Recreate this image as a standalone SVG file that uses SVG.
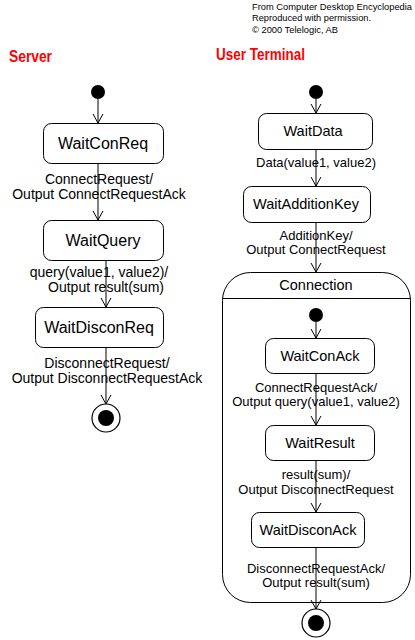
<svg xmlns="http://www.w3.org/2000/svg" width="415" height="640" viewBox="0 0 415 640">
<style>
.box{fill:#fff;stroke:#000;stroke-width:1}
.ln{stroke:#000;stroke-width:1;fill:none}
.dot{fill:#000}
.t{font-family:"Liberation Sans",Arial,sans-serif;fill:#000;text-anchor:middle}
.lb{font-size:14px}
.rl{font-size:13px}
.bl{font-size:16px}
.br{font-size:14.5px}
.title{font-family:"Liberation Sans",Arial,sans-serif;font-weight:bold;font-size:16.5px;fill:#ff0000}
.cr{font-family:"Liberation Sans",Arial,sans-serif;font-size:9.3px;fill:#000}
</style>
<defs>
<marker id="arr" markerUnits="userSpaceOnUse" markerWidth="12" markerHeight="12" viewBox="-10 -6 12 12" refX="0" refY="0" orient="auto">
<path d="M-9,-5 L0,0 L-9,5" fill="none" stroke="#000" stroke-width="1"/>
</marker>
</defs>
<rect width="415" height="640" fill="#fff"/>
<g id="credit">
<text class="cr" x="252" y="10" textLength="160" lengthAdjust="spacingAndGlyphs">From Computer Desktop Encyclopedia</text>
<text class="cr" x="252" y="21" textLength="119" lengthAdjust="spacingAndGlyphs">Reproduced with permission.</text>
<text class="cr" x="252" y="33" textLength="86" lengthAdjust="spacingAndGlyphs">© 2000 Telelogic, AB</text>
</g>
<g id="titles">
<text class="title" x="9" y="62" textLength="43" lengthAdjust="spacingAndGlyphs">Server</text>
<text class="title" x="216" y="60" textLength="89" lengthAdjust="spacingAndGlyphs">User Terminal</text>
</g>
<g id="connectors">
<line class="ln" x1="98" y1="99" x2="98" y2="123" marker-end="url(#arr)"/>
<line class="ln" x1="98" y1="163" x2="98" y2="220" marker-end="url(#arr)"/>
<line class="ln" x1="106" y1="260" x2="106" y2="307" marker-end="url(#arr)"/>
<line class="ln" x1="106" y1="348" x2="106" y2="404" marker-end="url(#arr)"/>
<line class="ln" x1="316" y1="99" x2="316" y2="113" marker-end="url(#arr)"/>
<line class="ln" x1="316" y1="149" x2="316" y2="186" marker-end="url(#arr)"/>
<line class="ln" x1="316" y1="222" x2="316" y2="272" marker-end="url(#arr)"/>
<line class="ln" x1="316" y1="322" x2="316" y2="338" marker-end="url(#arr)"/>
<line class="ln" x1="316" y1="373" x2="316" y2="425" marker-end="url(#arr)"/>
<line class="ln" x1="316" y1="460" x2="316" y2="512" marker-end="url(#arr)"/>
<line class="ln" x1="316" y1="547" x2="316" y2="609" marker-end="url(#arr)"/>
</g>
<g id="labels">
<text class="t lb" x="99" y="184">ConnectRequest/</text>
<text class="t lb" x="99" y="199">Output ConnectRequestAck</text>
<text class="t lb" x="99" y="277">query(value1, value2)/</text>
<text class="t lb" x="106" y="292">Output result(sum)</text>
<text class="t lb" x="107" y="368">DisconnectRequest/</text>
<text class="t lb" x="107" y="383">Output DisconnectRequestAck</text>
<text class="t rl" x="316" y="167">Data(value1, value2)</text>
<text class="t rl" x="316" y="240">AdditionKey/</text>
<text class="t rl" x="316" y="254">Output ConnectRequest</text>
<text class="t rl" x="316" y="392">ConnectRequestAck/</text>
<text class="t rl" x="316" y="406">Output query(value1, value2)</text>
<text class="t rl" x="316" y="479">result(sum)/</text>
<text class="t rl" x="316" y="494">Output DisconnectRequest</text>
<text class="t rl" x="316" y="573">DisconnectRequestAck/</text>
<text class="t rl" x="316" y="587">Output result(sum)</text>
</g>
<g id="server-init"><circle class="dot" cx="98" cy="92" r="7"/></g>
<g id="WaitConReq"><rect class="box" x="43.5" y="123.5" width="120" height="40" rx="8"/><text class="t bl" x="103" y="149">WaitConReq</text></g>
<g id="WaitQuery"><rect class="box" x="43.5" y="220.5" width="120" height="40" rx="8"/><text class="t bl" x="103" y="246">WaitQuery</text></g>
<g id="WaitDisconReq"><rect class="box" x="35.5" y="307.5" width="128" height="40" rx="8"/><text class="t bl" x="99" y="333">WaitDisconReq</text></g>
<g id="server-final"><circle cx="106" cy="418" r="14" fill="#fff" stroke="#000" stroke-width="1.2"/><circle class="dot" cx="106" cy="418" r="8"/></g>
<g id="user-init"><circle class="dot" cx="316" cy="92" r="7"/></g>
<g id="WaitData"><rect class="box" x="258.5" y="113.5" width="114" height="36" rx="8"/><text class="t br" x="313" y="136">WaitData</text></g>
<g id="WaitAdditionKey"><rect class="box" x="243.5" y="186.5" width="127" height="36" rx="8"/><text class="t br" x="306" y="209">WaitAdditionKey</text></g>
<g id="Connection">
<rect x="222.5" y="272.5" width="188" height="330" rx="28" fill="none" stroke="#000" stroke-width="1"/>
<line class="ln" x1="222.5" y1="298.5" x2="410.5" y2="298.5"/>
<text class="t" style="font-size:14.5px" x="316" y="290">Connection</text>
</g>
<g id="conn-init"><circle class="dot" cx="316" cy="315" r="7"/></g>
<g id="WaitConAck"><rect class="box" x="265.5" y="338.5" width="109" height="35" rx="8"/><text class="t br" x="320" y="361">WaitConAck</text></g>
<g id="WaitResult"><rect class="box" x="265.5" y="425.5" width="109" height="35" rx="8"/><text class="t br" x="320" y="448">WaitResult</text></g>
<g id="WaitDisconAck"><rect class="box" x="251.5" y="512.5" width="113" height="35" rx="8"/><text class="t br" x="308" y="535">WaitDisconAck</text></g>
<g id="user-final"><circle cx="316" cy="623" r="14" fill="#fff" stroke="#000" stroke-width="1.2"/><circle class="dot" cx="316" cy="623" r="8"/></g>
</svg>
